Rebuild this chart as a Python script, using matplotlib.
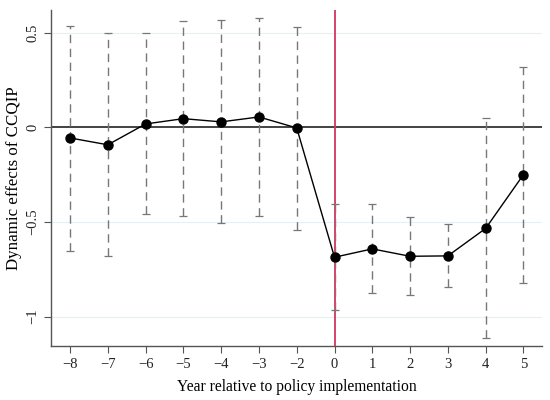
import numpy as np
import matplotlib.pyplot as plt

years = ['−8', '−7', '−6', '−5', '−4', '−3', '−2', '0', '1', '2', '3', '4', '5']
effect = [-0.056, -0.092, 0.018, 0.046, 0.029, 0.055, -0.003,
          -0.686, -0.642, -0.681, -0.679, -0.534, -0.250]
ci_upper = [0.537, 0.497, 0.497, 0.561, 0.566, 0.577, 0.529,
            -0.404, -0.407, -0.476, -0.511, 0.048, 0.321]
ci_lower = [-0.651, -0.679, -0.460, -0.469, -0.506, -0.467, -0.541,
            -0.966, -0.876, -0.887, -0.841, -1.111, -0.823]
y_ticks = [-1, -0.5, 0, 0.5]
y_tick_labels = ['−1', '−0.5', '0', '0.5']

plt.rcParams['font.family'] = ['Liberation Serif', 'DejaVu Serif']

fig = plt.figure(figsize=(5.5, 4), dpi=100)
ax = fig.add_axes([0.093, 0.135, 0.893, 0.84])

x = np.arange(len(years))
effect = np.array(effect)
lo = effect - np.array(ci_lower)
hi = np.array(ci_upper) - effect

for yt in [-1, -0.5, 0.5]:
    ax.axhline(yt, color='#e6eff2', lw=0.8, zorder=0)
ax.axhline(0, color='#222222', lw=1.2, zorder=1)
ax.axvline(x[years.index('0')], color='#d1365f', lw=1.3, zorder=1)

eb = ax.errorbar(x, effect, yerr=[lo, hi], fmt='none', ecolor='#777777',
                 elinewidth=1.0, capsize=3, capthick=0.9, zorder=2)
eb[2][0].set_linestyle((0, (6, 4)))
ax.plot(x, effect, color='black', lw=1.0, marker='o', markersize=6.5, zorder=3)

ax.set_xlim(-0.5, 12.5)
ax.set_ylim(-1.155, 0.62)
ax.set_xticks(x)
ax.set_xticklabels(years, fontsize=10.5)
ax.set_yticks(y_ticks)
ax.set_yticklabels(y_tick_labels, fontsize=10.5, rotation=90, va='center')
ax.set_xlabel('Year relative to policy implementation', fontsize=11.2, labelpad=6)
ax.set_ylabel('Dynamic effects of CCQIP', fontsize=12.2, labelpad=3)

for side in ['top', 'right']:
    ax.spines[side].set_visible(False)
for side in ['left', 'bottom']:
    ax.spines[side].set_color('#555555')
    ax.spines[side].set_linewidth(1.0)
ax.tick_params(colors='#555555', labelcolor='#222222', length=5)

fig.savefig('out.png', dpi=100)
